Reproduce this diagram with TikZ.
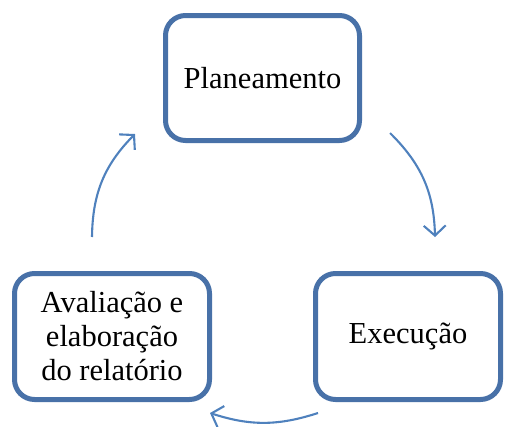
\documentclass[tikz,border=0pt]{standalone}
\usepackage{fontspec}
\setmainfont{Liberation Serif}
\usetikzlibrary{arrows.meta}
\definecolor{boxblue}{RGB}{72,113,168}
\definecolor{arrblue}{RGB}{79,129,189}
\begin{document}
\begin{tikzpicture}[x=1pt,y=-1pt,
  stagebox/.style={draw=boxblue,line width=5pt,rounded corners=20pt,fill=white,
    inner sep=0pt,align=center,font=\fontsize{30.5}{34}\selectfont},
  cyc/.style={draw=arrblue,line width=2.1pt,-{Straight Barb[length=10pt,width=22pt,line width=2.1pt]}}]
\useasboundingbox (0,0) rectangle (506,426);
\node[stagebox,minimum width=194pt,minimum height=125pt] (plan) at (262.5,78) {Planeamento};
\node[stagebox,minimum width=185pt,minimum height=126pt] (exec) at (408,336.5) {Execução};
\node[stagebox,minimum width=195pt,minimum height=126pt] (aval) at (112,336.5) {Avaliação e\\elaboração\\do relatório};
\coordinate (a1s) at (390,133);
\coordinate (a1e) at (435,237);
\coordinate (a2s) at (318,413);
\coordinate (a2e) at (210,413);
\coordinate (a3s) at (92,237);
\coordinate (a3e) at (135,134);
\draw[cyc] (a1s) to[bend left=22] (a1e);
\draw[cyc] (a2s) to[bend left=18] (a2e);
\draw[cyc] (a3s) to[bend left=22] (a3e);
\end{tikzpicture}
\end{document}
